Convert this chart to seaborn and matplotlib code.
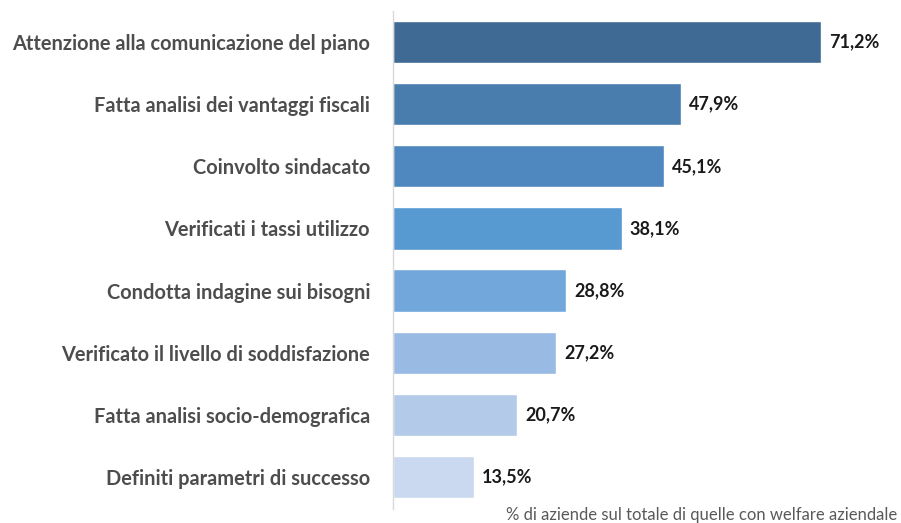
import matplotlib
matplotlib.use("Agg")
import matplotlib.pyplot as plt
import seaborn as sns
import pandas as pd

categories = [
    "Attenzione alla comunicazione del piano",
    "Fatta analisi dei vantaggi fiscali",
    "Coinvolto sindacato",
    "Verificati i tassi utilizzo",
    "Condotta indagine sui bisogni",
    "Verificato il livello di soddisfazione",
    "Fatta analisi socio-demografica",
    "Definiti parametri di successo",
]
values = [71.2, 47.9, 45.1, 38.1, 28.8, 27.2, 20.7, 13.5]
colors = ["#3E6A94", "#487DAD", "#4F88BF", "#5799D1", "#72A7DB",
          "#99BAE2", "#B3CAE8", "#CAD9F0"]
footnote = "% di aziende sul totale di quelle con welfare aziendale"

sns.set_theme(style="white")
plt.rcParams['font.family'] = ['Lato', 'DejaVu Sans']

df = pd.DataFrame({"cat": categories, "val": values})

W, H = 901, 523
fig = plt.figure(figsize=(W / 100, H / 100), dpi=100)
left = 393 / W
xmax = 84
right = (393 + xmax * 6.01) / W
ax = fig.add_axes([left, (H - 509) / H, right - left, (509 - 11) / H])

sns.barplot(data=df, x="val", y="cat", hue="cat", palette=colors,
            legend=False, ax=ax, width=0.68, saturation=1, orient="h")

ax.set_xlim(0, xmax)
ax.set_ylim(7.515, -0.5)
for s in ["top", "right", "bottom"]:
    ax.spines[s].set_visible(False)
ax.spines["left"].set_color("#D9D9D9")
ax.spines["left"].set_linewidth(1)
ax.set_xticks([])
ax.set_xlabel("")
ax.set_ylabel("")
ax.tick_params(axis="y", length=0, pad=16.5)
for lab in ax.get_yticklabels():
    lab.set_fontsize(14.4)
    lab.set_fontweight("bold")
    lab.set_color("#4D4D4D")

for i, v in enumerate(values):
    ax.text(v + 1.3, i, f"{v:.1f}".replace(".", ",") + "%", va="center",
            ha="left", fontsize=13, fontweight="bold", color="#1a1a1a")

fig.text(897 / W, 1 - 515 / H, footnote, ha="right", va="center",
         fontsize=12, color="#595959")

fig.savefig("out.png", dpi=100)
